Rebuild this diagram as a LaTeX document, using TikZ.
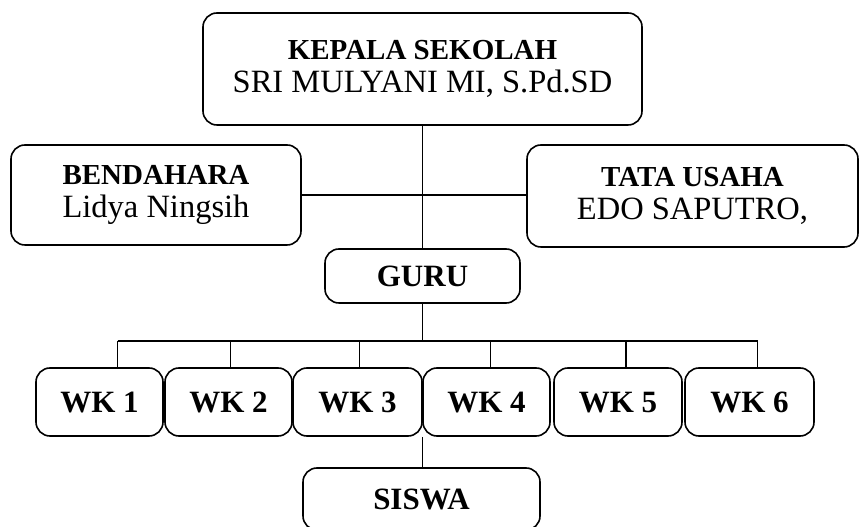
\documentclass[tikz,border=0pt]{standalone}
\usepackage{fontspec}
\setmainfont{Liberation Serif}
\tikzset{
  box/.style={draw=black, line width=1.6pt, rounded corners=14pt, align=center, inner sep=0pt,
    font=\fontsize{32}{33}\selectfont},
  head/.style={box, font=\fontsize{31}{33}\selectfont\bfseries, text height=21pt, text depth=0pt},
  link/.style={draw=black, line width=1.2pt}
}
\newcommand{\boxtitle}[1]{{\fontsize{29}{33}\selectfont\bfseries #1}}
\newcommand{\boxname}[1]{{\fontsize{32.5}{33}\selectfont #1}}

\begin{document}
\begin{tikzpicture}[x=1pt, y=1pt]
  \useasboundingbox (0,0) rectangle (859,527);
  \clip (0,0) rectangle (859,527);
  % top
  \node[box, minimum width=439pt, minimum height=112pt] (kepala) at (422.5,458)
    {\boxtitle{KEPALA SEKOLAH}\\ \boxname{SRI MULYANI MI, S.Pd.SD}};
  \node[box, minimum width=290pt, minimum height=100pt] (bendahara) at (156,332)
    {\boxtitle{BENDAHARA}\\ \boxname{Lidya Ningsih}};
  \node[box, minimum width=331pt, minimum height=102pt] (tatausaha) at (692.5,331)
    {\boxtitle{TATA USAHA}\\ \boxname{EDO SAPUTRO,}};
  \node[head, minimum width=195pt, minimum height=54pt] (guru) at (422.5,251) {GURU};
  % wali kelas
  \node[head, minimum width=127pt, minimum height=68pt] (wk1) at (99.5,125) {WK 1};
  \node[head, minimum width=127pt, minimum height=68pt] (wk2) at (228.5,125) {WK 2};
  \node[head, minimum width=129pt, minimum height=68pt] (wk3) at (357.5,125) {WK 3};
  \node[head, minimum width=127pt, minimum height=68pt] (wk4) at (486.5,125) {WK 4};
  \node[head, minimum width=128pt, minimum height=68pt] (wk5) at (618,125) {WK 5};
  \node[head, minimum width=129pt, minimum height=68pt] (wk6) at (749.5,125) {WK 6};
  \node[head, minimum width=237pt, minimum height=62pt] (siswa) at (421.5,28) {SISWA};
  % lines
  \draw[link] (kepala.south) -- (guru.north);
  \draw[link] (bendahara.east) -- (bendahara.east -| tatausaha.west);
  \coordinate (bus) at (422.5,186);
  \draw[link] (guru.south) -- (guru.south |- bus);
  \foreach \n/\dx in {1/18,2/2,3/2,4/4,5/8,6/8} {
    \coordinate (d\n) at ([xshift=\dx pt]wk\n.north);
    \draw[link] (d\n) -- (d\n |- bus);
  }
  \draw[link] (d1 |- bus) -- (d6 |- bus);
  \draw[link] (wk3.south east) -- (wk3.south east |- siswa.north);
\end{tikzpicture}
\end{document}
